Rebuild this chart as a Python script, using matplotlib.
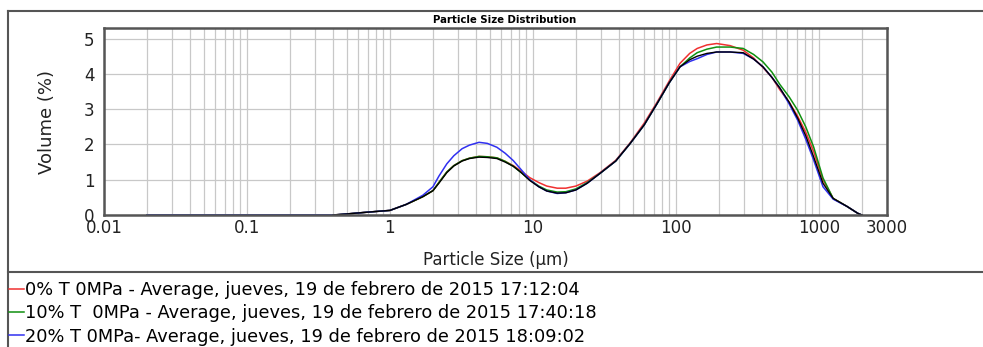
import matplotlib.pyplot as plt
from matplotlib.lines import Line2D
from matplotlib.ticker import FixedLocator, FixedFormatter, LogLocator, NullFormatter

# particle size (um)
size = [0.02, 0.4, 0.5, 0.65, 0.8, 1.0, 1.3, 1.7, 2.0, 2.2, 2.5, 2.8, 3.2, 3.6,
        4.2, 4.8, 5.6, 6.4, 7.3, 8.3, 9.5, 11, 12.5, 14.8, 17, 20, 24, 29.5,
        38, 48, 60, 74, 90, 107, 125, 141, 165, 193, 240, 296, 350, 407, 470,
        534, 620, 711, 810, 920, 1070, 1260, 1580, 1870, 2000]

vol_0 = [0, 0, 0.03, 0.07, 0.1, 0.13, 0.3, 0.52, 0.69, 0.92, 1.22, 1.4, 1.54,
         1.61, 1.66, 1.65, 1.62, 1.52, 1.4, 1.24, 1.06, 0.92, 0.82, 0.76, 0.76,
         0.82, 0.96, 1.2, 1.55, 2.05, 2.6, 3.2, 3.8, 4.3, 4.58, 4.72, 4.82,
         4.86, 4.8, 4.67, 4.45, 4.18, 3.9, 3.55, 3.2, 2.8, 2.35, 1.8, 1.0, 0.47,
         0.24, 0.05, 0]
vol_10 = [0, 0, 0.03, 0.07, 0.1, 0.13, 0.3, 0.52, 0.69, 0.92, 1.22, 1.4, 1.54,
          1.61, 1.66, 1.65, 1.62, 1.52, 1.38, 1.2, 1.0, 0.82, 0.71, 0.65, 0.66,
          0.74, 0.92, 1.18, 1.53, 2.03, 2.55, 3.16, 3.75, 4.2, 4.45, 4.6, 4.7,
          4.76, 4.76, 4.72, 4.55, 4.34, 4.05, 3.7, 3.35, 2.97, 2.5, 1.93, 1.05,
          0.47, 0.24, 0.05, 0]
vol_20 = [0, 0, 0.03, 0.07, 0.1, 0.13, 0.3, 0.56, 0.8, 1.1, 1.45, 1.68, 1.88,
          1.98, 2.06, 2.03, 1.92, 1.75, 1.54, 1.28, 1.0, 0.8, 0.68, 0.61, 0.63,
          0.71, 0.9, 1.18, 1.53, 2.03, 2.55, 3.16, 3.75, 4.2, 4.35, 4.43, 4.55,
          4.62, 4.62, 4.58, 4.42, 4.2, 3.9, 3.6, 3.15, 2.69, 2.15, 1.56, 0.8,
          0.45, 0.24, 0.05, 0]
vol_blk = [None, 0, 0.03, 0.07, 0.1, 0.13, 0.3, 0.52, 0.69, 0.9, 1.2, 1.39,
           1.53, 1.6, 1.64, 1.63, 1.6, 1.5, 1.38, 1.2, 0.98, 0.8, 0.68, 0.62,
           0.63, 0.71, 0.9, 1.18, 1.53, 2.03, 2.55, 3.16, 3.75, 4.2, 4.4, 4.5,
           4.58, 4.62, 4.62, 4.6, 4.42, 4.2, 3.9, 3.6, 3.2, 2.75, 2.25, 1.65,
           0.9, 0.47, 0.24, 0.05, 0]

labels = ["0% T 0MPa - Average, jueves, 19 de febrero de 2015 17:12:04",
          "10% T  0MPa - Average, jueves, 19 de febrero de 2015 17:40:18",
          "20% T 0MPa- Average, jueves, 19 de febrero de 2015 18:09:02"]
colors = ["#f03030", "#109010", "#3030f0"]

xticks = [0.01, 0.1, 1, 10, 100, 1000, 3000]
xtick_labels = ["0.01", "0.1", "1", "10", "100", "1000", "3000"]

fig = plt.figure(figsize=(9.83, 3.47), dpi=100)
plt.rcParams['font.family'] = ['DejaVu Sans']
ax = fig.add_axes([104 / 983, 1 - 215 / 347, 783 / 983, 187 / 347])

for vals, c, lab in zip([vol_0, vol_10, vol_20], colors, labels):
    ax.plot(size, vals, color=c, lw=1.1, label=lab)
xs = [s for s, v in zip(size, vol_blk) if v is not None]
ys = [v for v in vol_blk if v is not None]
ax.plot(xs, ys, color="black", lw=1.0, label="_nolegend_")

ax.set_xscale("log")
ax.set_xlim(0.01, 3000)
ax.set_ylim(0, 5.3)
ax.xaxis.set_major_locator(FixedLocator(xticks))
ax.xaxis.set_major_formatter(FixedFormatter(xtick_labels))
ax.xaxis.set_minor_locator(LogLocator(base=10, subs=range(2, 10), numticks=20))
ax.xaxis.set_minor_formatter(NullFormatter())
ax.set_yticks([0, 1, 2, 3, 4, 5])
ax.grid(True, which="both", axis="x", color="#c8c8c8", lw=0.9)
ax.grid(True, which="major", axis="y", color="#c8c8c8", lw=0.9)
ax.tick_params(which="both", length=0, labelsize=12, colors="#222222")
ax.tick_params(axis="y", pad=7)
ax.tick_params(axis="x", pad=3)
for sp in ax.spines.values():
    sp.set_color("#555555")
    sp.set_linewidth(1.8)

ax.set_xlabel("Particle Size (µm)", fontsize=12, color="#222222", labelpad=10)
ax.set_ylabel("Volume (%)", fontsize=13, color="#222222", labelpad=20)
fig.text(505 / 983, 1 - 20 / 347, "Particle Size Distribution", fontsize=7.3,
         fontweight="bold", ha="center", va="center")

# outer frame and legend separator
fig.add_artist(Line2D([8 / 983, 1], [1 - 11 / 347] * 2, color="#555555", lw=1.5))
fig.add_artist(Line2D([8 / 983] * 2, [0, 1 - 11 / 347], color="#555555", lw=1.5))
fig.add_artist(Line2D([8 / 983, 1], [1 - 272 / 347] * 2, color="#555555", lw=1.5))

fig.legend(loc="upper left", bbox_to_anchor=(9 / 983, 1 - 281 / 347),
           frameon=False, fontsize=12.8, handlelength=0.85, handletextpad=0.05,
           labelspacing=0.3, borderpad=0, borderaxespad=0)

fig.savefig("out.png", dpi=100)
